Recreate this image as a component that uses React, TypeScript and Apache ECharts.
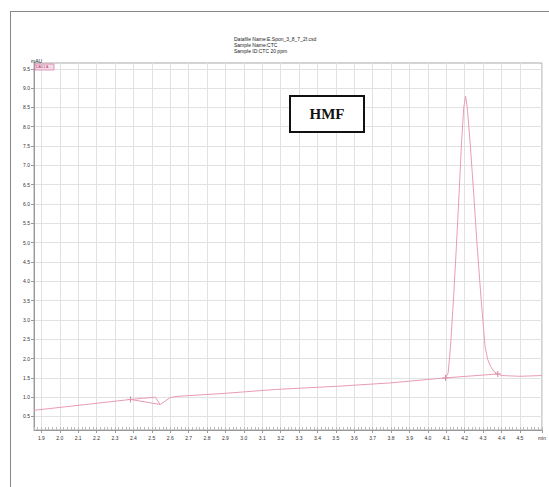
import React, { useEffect, useRef } from "react";
import * as echarts from "echarts";

// Chromatogram trace (time in min, signal in mAU)
const signalTime = [
  1.86, 2.384, 2.45, 2.519, 2.546, 2.6, 2.637, 2.9, 3.176, 3.5, 3.8, 4.096,
  4.11, 4.123, 4.14, 4.155, 4.17, 4.182, 4.195, 4.205, 4.214, 4.231, 4.25,
  4.268, 4.29, 4.311, 4.325, 4.34, 4.36, 4.38, 4.4, 4.5, 4.62,
];
const signalValue = [
  0.66, 0.94, 0.97, 1.0, 0.81, 0.99, 1.02, 1.1, 1.2, 1.28, 1.37, 1.5,
  1.62, 2.3, 3.6, 4.9, 6.3, 7.5, 8.5, 8.79, 8.5, 7.5, 6.2,
  4.9, 3.5, 2.3, 1.98, 1.8, 1.66, 1.6, 1.56, 1.54, 1.56,
];
// Integration baselines and peak markers
const baseline1Time = [2.384, 2.546];
const baseline1Value = [0.94, 0.81];
const baseline2Time = [4.096, 4.38];
const baseline2Value = [1.5, 1.6];
const markerTime = [2.384, 4.096, 4.38];
const markerValue = [0.94, 1.5, 1.6];

const xTickValues = [
  1.9, 2.0, 2.1, 2.2, 2.3, 2.4, 2.5, 2.6, 2.7, 2.8, 2.9, 3.0, 3.1, 3.2, 3.3,
  3.4, 3.5, 3.6, 3.7, 3.8, 3.9, 4.0, 4.1, 4.2, 4.3, 4.4, 4.5, 4.62,
];
const yTickValues = [
  0.5, 1.0, 1.5, 2.0, 2.5, 3.0, 3.5, 4.0, 4.5, 5.0, 5.5, 6.0, 6.5, 7.0, 7.5,
  8.0, 8.5, 9.0, 9.5,
];
const titleLines = [
  "Datafile Name:E.Spon_3_8_7_2f.csd",
  "Sample Name:CTC",
  "Sample ID:CTC 20 ppm",
];

const PINK = "#e99cb1";
const GRID = "#e2e2e2";

function zip(a: number[], b: number[]) {
  return a.map((v, i) => [v, b[i]]);
}

export default function App() {
  const ref = useRef<HTMLDivElement>(null);
  useEffect(() => {
    if (!ref.current) return;
    const chart = echarts.init(ref.current, undefined, { renderer: "svg" });
    const tinyFont = { fontSize: 5, color: "#333", fontFamily: "Liberation Sans" };
    chart.setOption({
      animation: false,
      backgroundColor: "#fff",
      grid: { left: 34, top: 63, right: 4, bottom: 57, show: true, borderColor: "#a8a8a8", borderWidth: 1 },
      xAxis: [
        {
          type: "value",
          min: 1.86,
          max: 4.62,
          axisLine: { show: true, lineStyle: { color: "#999" } },
          axisTick: { show: true, length: 3, customValues: xTickValues, lineStyle: { color: "#999" } },
          axisLabel: {
            ...tinyFont,
            margin: 5,
            customValues: xTickValues,
            formatter: (v: number) => (v > 4.6 ? "min" : v.toFixed(1)),
          },
          splitLine: { show: true, lineStyle: { color: GRID, width: 1 } },
        },
        {
          type: "value",
          min: 1.86,
          max: 4.62,
          interval: 0.02,
          position: "bottom",
          axisLine: { show: false },
          axisTick: { show: true, inside: true, length: 3, lineStyle: { color: "#bbb" } },
          axisLabel: { show: false },
          splitLine: { show: false },
        },
      ],
      yAxis: {
        type: "value",
        min: 0.15,
        max: 9.65,
        axisLine: { show: true, lineStyle: { color: "#999" } },
        axisTick: { show: true, length: 3, customValues: yTickValues, lineStyle: { color: "#999" } },
        axisLabel: {
          ...tinyFont,
          margin: 4,
          customValues: yTickValues,
          formatter: (v: number) => v.toFixed(1),
        },
        splitLine: { show: true, lineStyle: { color: GRID, width: 1 } },
      },
      series: [
        {
          type: "line",
          data: zip(signalTime, signalValue),
          showSymbol: false,
          lineStyle: { color: PINK, width: 1 },
          itemStyle: { color: PINK },
        },
        {
          type: "line",
          data: zip(baseline1Time, baseline1Value),
          showSymbol: false,
          lineStyle: { color: PINK, width: 1 },
        },
        {
          type: "line",
          data: zip(baseline2Time, baseline2Value),
          showSymbol: false,
          lineStyle: { color: PINK, width: 1 },
        },
        {
          type: "scatter",
          data: zip(markerTime, markerValue),
          symbol: "path://M0,5L10,5M5,0L5,10",
          symbolSize: 6,
          itemStyle: { color: "none", borderColor: "#c86a84", borderWidth: 1 },
        },
      ],
      graphic: [
        { type: "line", z: 100, shape: { x1: 10.5, y1: 11, x2: 10.5, y2: 487 }, style: { stroke: "#888", lineWidth: 1 } },
        { type: "line", z: 100, shape: { x1: 10, y1: 11.5, x2: 549, y2: 11.5 }, style: { stroke: "#888", lineWidth: 1 } },
        ...titleLines.map((t, i) => ({
          type: "text",
          z: 100,
          x: 234,
          y: 36 + i * 6,
          style: { text: t, fontSize: 5, fill: "#222", fontFamily: "Liberation Sans" },
        })),
        {
          type: "text",
          z: 100,
          x: 31,
          y: 58,
          style: { text: "mAU", fontSize: 5, fill: "#222", fontFamily: "Liberation Sans" },
        },
        {
          type: "rect",
          z: 100,
          shape: { x: 35, y: 64, width: 19, height: 6 },
          style: { fill: "#f6dbe6", stroke: "#d884a8", lineWidth: 0.8 },
        },
        {
          type: "text",
          z: 101,
          x: 36,
          y: 65,
          style: { text: "DAD1 A", fontSize: 3.5, fill: "#b04070", fontFamily: "Liberation Sans" },
        },
        {
          type: "rect",
          z: 100,
          shape: { x: 290, y: 96, width: 74, height: 36 },
          style: { fill: "#fff", stroke: "#111", lineWidth: 2 },
        },
        {
          type: "text",
          z: 101,
          x: 327,
          y: 114,
          style: {
            text: "HMF",
            fontSize: 15,
            fontWeight: "bold",
            fill: "#111",
            fontFamily: "Liberation Serif",
            align: "center",
            verticalAlign: "middle",
          },
        },
      ],
    });
    return () => chart.dispose();
  }, []);
  return (
    <div
      ref={ref}
      style={{ position: "fixed", left: 0, top: 0, width: 549, height: 487, background: "#fff" }}
    />
  );
}
